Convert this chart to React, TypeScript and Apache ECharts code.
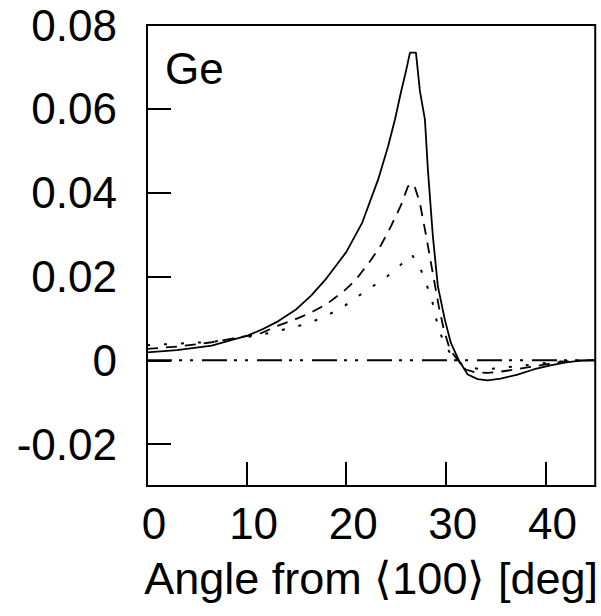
import React, { useEffect, useRef } from "react";
import * as echarts from "echarts";

const xTicks = [0, 10, 20, 30, 40];
const yTicks = [-0.02, 0, 0.02, 0.04, 0.06, 0.08];

const solidAngles = [0, 3, 6.5, 8, 10, 11.5, 13, 15, 16.5, 18, 20, 21.6, 23.2, 24.2, 24.9, 25.5, 26, 26.4, 27, 27.4, 27.9, 28.2, 28.7, 29.2, 29.9, 30.5, 31.3, 32.2, 33.2, 34.2, 35.5, 37.2, 38.8, 40.5, 42.1, 43.5, 45];
const solidValues = [0.0019, 0.0024, 0.0035, 0.0045, 0.0058, 0.0073, 0.0091, 0.0122, 0.0155, 0.0195, 0.0258, 0.0328, 0.0431, 0.051, 0.0575, 0.064, 0.069, 0.0734, 0.0734, 0.0642, 0.0575, 0.0455, 0.0296, 0.0177, 0.0097, 0.0042, 0.0, -0.0034, -0.0045, -0.0048, -0.0044, -0.0034, -0.0022, -0.0012, -0.0005, -0.0001, 0];

const dashedAngles = [0, 3.2, 6.5, 9.8, 11.5, 13.1, 14.8, 16.4, 18.1, 19.9, 21, 22.5, 23.5, 24.5, 25.5, 26.2, 26.8, 27.4, 28, 28.6, 29.3, 29.8, 30.4, 31.2, 32, 33, 34.2, 35.5, 37, 38.5, 40, 41.5, 43, 45];
const dashedValues = [0.0027, 0.0033, 0.0043, 0.0057, 0.0065, 0.0082, 0.0097, 0.0113, 0.0135, 0.0168, 0.0193, 0.024, 0.0275, 0.032, 0.037, 0.0415, 0.042, 0.0375, 0.03, 0.022, 0.0128, 0.0073, 0.0026, 0, -0.0022, -0.0029, -0.003, -0.0027, -0.0022, -0.0016, -0.001, -0.0004, -0.0001, 0];

const dottedAngles = [0, 3.2, 6.5, 9.8, 11.5, 13.5, 15.1, 16.7, 18.2, 19.9, 21.2, 22.7, 24.1, 25.3, 26.6, 27.5, 28, 28.6, 29.2, 29.7, 30.4, 31, 32, 33.6, 35.3, 37.2, 39.8, 41.5, 43, 45];
const dottedValues = [0.0036, 0.004, 0.0044, 0.0055, 0.0061, 0.0072, 0.0081, 0.0093, 0.0108, 0.0131, 0.0153, 0.0177, 0.02, 0.0224, 0.0252, 0.0216, 0.0185, 0.0145, 0.0081, 0.0049, 0.0018, 0, -0.0015, -0.0022, -0.0019, -0.0014, -0.0007, -0.0003, -0.0001, 0];

const zeroAngles = [0, 45];
const zeroValues = [0, 0];

const FONT = "'Liberation Sans', Arial, Helvetica, sans-serif";

function pairs(xs: number[], ys: number[]) {
  return xs.map((x, i) => [x, ys[i]]);
}

export default function App() {
  const ref = useRef<HTMLDivElement>(null);
  useEffect(() => {
    if (!ref.current) return;
    const chart = echarts.init(ref.current, undefined, { renderer: "svg" });
    const lineBase = { type: "line", showSymbol: false, symbol: "none", smooth: false, silent: true };
    chart.setOption({
      animation: false,
      backgroundColor: "#fff",
      grid: {
        left: 147,
        right: 4,
        top: 25,
        bottom: 130,
        show: true,
        borderColor: "#000",
        borderWidth: 2,
        backgroundColor: "transparent",
      },
      xAxis: {
        type: "value",
        min: 0,
        max: 45,
        name: "Angle from \u27e8100\u27e9 [deg]",
        nameLocation: "middle",
        nameGap: 70,
        nameTextStyle: { fontFamily: FONT, fontSize: 45, color: "#000" },
        axisLine: { show: true, onZero: false, lineStyle: { color: "#000", width: 2 } },
        axisTick: { show: true, inside: true, length: 24, lineStyle: { color: "#000", width: 2 }, customValues: xTicks },
        axisLabel: {
          customValues: xTicks,
          fontFamily: FONT,
          fontSize: 44,
          color: "#000",
          margin: 15,
          padding: [0, 0, 0, 14],
          formatter: (v: number) => String(v),
        },
        splitLine: { show: false },
      },
      yAxis: {
        type: "value",
        min: -0.03,
        max: 0.08,
        axisLine: { show: true, onZero: false, lineStyle: { color: "#000", width: 2 } },
        axisTick: { show: true, inside: true, length: 24, lineStyle: { color: "#000", width: 2 }, customValues: yTicks },
        axisLabel: {
          customValues: yTicks,
          fontFamily: FONT,
          fontSize: 44,
          color: "#000",
          margin: 30,
          formatter: (v: number) => (Math.abs(v) < 1e-9 ? "0" : v.toFixed(2)),
        },
        splitLine: { show: false },
      },
      graphic: [
        {
          type: "text",
          left: 165,
          top: 46,
          style: { text: "Ge", font: `44px ${FONT}`, fill: "#000" },
        },
      ],
      series: [
        { ...lineBase, name: "zero", data: pairs(zeroAngles, zeroValues), lineStyle: { color: "#000", width: 1.8, type: [25, 7, 3, 8, 3, 9] } },
        { ...lineBase, name: "dotted", data: pairs(dottedAngles, dottedValues), lineStyle: { color: "#000", width: 2, type: [3, 14] } },
        { ...lineBase, name: "dashed", data: pairs(dashedAngles, dashedValues), lineStyle: { color: "#000", width: 1.8, type: [11, 8] } },
        { ...lineBase, name: "solid", data: pairs(solidAngles, solidValues), lineStyle: { color: "#000", width: 1.8, type: "solid" } },
      ],
    });
    return () => chart.dispose();
  }, []);
  return <div ref={ref} style={{ position: "fixed", left: 0, top: 0, width: 601, height: 616 }} />;
}
